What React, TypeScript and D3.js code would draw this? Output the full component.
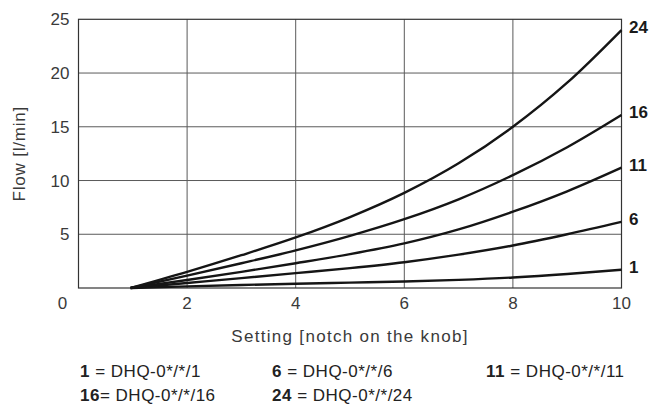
import React from 'react';
import * as d3 from 'd3';

const settings = [1, 2, 3, 4, 5, 6, 7, 8, 9, 10];
const flow1 = [0, 0.15, 0.28, 0.4, 0.5, 0.6, 0.76, 0.98, 1.3, 1.7];
const flow6 = [0, 0.47, 0.92, 1.38, 1.85, 2.4, 3.1, 3.95, 5.0, 6.15];
const flow11 = [0, 0.75, 1.5, 2.3, 3.15, 4.15, 5.45, 7.1, 9.0, 11.2];
const flow16 = [0, 1.15, 2.3, 3.5, 4.85, 6.4, 8.25, 10.5, 13.1, 16.1];
const flow24 = [0, 1.5, 3.05, 4.7, 6.6, 8.85, 11.6, 15.0, 19.1, 24.0];

const seriesNames = ['1', '6', '11', '16', '24'];
const seriesValues = [flow1, flow6, flow11, flow16, flow24];

const xTicks = [2, 4, 6, 8, 10];
const yTicks = [5, 10, 15, 20, 25];

const legendRow1 = [
  { key: '1', text: ' = DHQ-0*/*/1' },
  { key: '6', text: ' = DHQ-0*/*/6' },
  { key: '11', text: ' = DHQ-0*/*/11' },
];
const legendRow2 = [
  { key: '16', text: '= DHQ-0*/*/16' },
  { key: '24', text: ' = DHQ-0*/*/24' },
];

const width = 653;
const height = 411;
const margin = { top: 19.3, right: 31.5, bottom: 123, left: 78.5 };
const font = '"Liberation Sans", Arial, Helvetica, sans-serif';

export default function App() {
  const x = d3.scaleLinear().domain([0, 10]).range([margin.left, width - margin.right]);
  const y = d3.scaleLinear().domain([0, 25]).range([height - margin.bottom, margin.top]);

  // curves start a hair before notch 1 in the original
  const line = d3.line<number>()
    .x((_, i) => x(settings[i] - (i === 0 ? 0.04 : 0)))
    .y((d) => y(d))
    .curve(d3.curveMonotoneX);

  const legendX = [80, 272, 486];

  return (
    <svg width={width} height={height} style={{ position: 'absolute', left: 0, top: 0, background: '#fff' }}
      fontFamily={font}>
      {/* grid */}
      {xTicks.slice(0, -1).map((t) => (
        <line key={'gx' + t} x1={x(t)} x2={x(t)} y1={y(0)} y2={y(25)} stroke="#5a5a5a" strokeWidth={1} />
      ))}
      {yTicks.slice(0, -1).map((t) => (
        <line key={'gy' + t} x1={x(0)} x2={x(10)} y1={y(t)} y2={y(t)} stroke="#5a5a5a" strokeWidth={1} />
      ))}
      <rect x={x(0)} y={y(25)} width={x(10) - x(0)} height={y(0) - y(25)} fill="none" stroke="#333" strokeWidth={1.2} />

      {/* curves */}
      {seriesValues.map((vals, i) => (
        <path key={seriesNames[i]} d={line(vals) || ''} fill="none" stroke="#151515" strokeWidth={2.4} />
      ))}

      {/* end labels */}
      {seriesValues.map((vals, i) => (
        <text key={'lab' + i} x={x(10) + 7.5} y={y(vals[vals.length - 1]) + 3} fontSize={17} fontWeight="bold" fill="#1a1a1a">
          {seriesNames[i]}
        </text>
      ))}

      {/* y ticks */}
      {yTicks.map((t) => (
        <text key={'yt' + t} x={x(0) - 9} y={y(t) + 6} fontSize={17} textAnchor="end" fill="#3a3a3a">{t}</text>
      ))}
      {/* x ticks */}
      <text x={x(0) - 16} y={309} fontSize={17} textAnchor="middle" fill="#3a3a3a">0</text>
      {xTicks.map((t) => (
        <text key={'xt' + t} x={x(t)} y={309} fontSize={17} textAnchor="middle" fill="#3a3a3a">{t}</text>
      ))}

      {/* axis titles */}
      <text x={350} y={342} fontSize={17} textAnchor="middle" fill="#3a3a3a" letterSpacing={1.3}>
        Setting [notch on the knob]
      </text>
      <text transform={`translate(25,${(y(0) + y(25)) / 2}) rotate(-90)`} fontSize={17} textAnchor="middle" fill="#3a3a3a" letterSpacing={0.8}>
        Flow [l/min]
      </text>

      {/* legend */}
      {legendRow1.map((d, i) => (
        <text key={'l1' + d.key} x={legendX[i]} y={377} fontSize={17} fill="#222" letterSpacing={0.5}>
          <tspan fontWeight="bold">{d.key}</tspan>
          <tspan>{d.text}</tspan>
        </text>
      ))}
      {legendRow2.map((d, i) => (
        <text key={'l2' + d.key} x={legendX[i]} y={401} fontSize={17} fill="#222" letterSpacing={0.5}>
          <tspan fontWeight="bold">{d.key}</tspan>
          <tspan>{d.text}</tspan>
        </text>
      ))}
    </svg>
  );
}
